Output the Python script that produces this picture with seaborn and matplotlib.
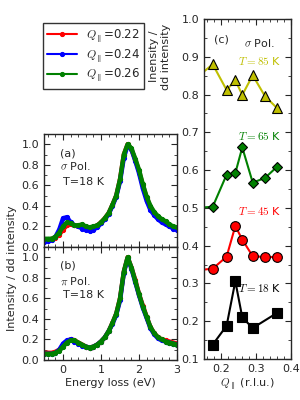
import numpy as np
import matplotlib
matplotlib.use("Agg")
import matplotlib.pyplot as plt
import matplotlib.ticker as mtick
import seaborn as sns

# ---- data ----
energy = np.round(np.arange(-0.5, 3.01, 0.1), 1)

# panel (a), sigma polarisation
sig_022 = [.07, .07, .08, .09, .12, .17, .21, .22, .21, .20, .20, .19, .18, .19, .21, .24, .28, .33,
           .41, .50, .66, .90, 1.0, .95, .85, .74, .60, .48, .39, .33, .29, .26, .24, .21, .19, .18]
sig_024 = [.05, .06, .07, .10, .17, .28, .29, .24, .21, .20, .18, .17, .16, .17, .19, .23, .27, .32,
           .40, .49, .64, .87, .99, .95, .84, .72, .57, .45, .36, .31, .27, .24, .22, .20, .18, .17]
sig_026 = [.08, .08, .08, .10, .14, .20, .24, .23, .21, .21, .22, .20, .19, .20, .21, .24, .28, .33,
           .41, .50, .66, .90, 1.0, .96, .86, .75, .61, .49, .40, .34, .30, .27, .25, .22, .20, .19]

# panel (b), pi polarisation
pi_022 = [.07, .07, .07, .08, .10, .14, .18, .20, .19, .17, .15, .13, .12, .13, .15, .18, .22, .28,
          .36, .45, .60, .86, 1.0, .90, .78, .64, .53, .42, .32, .26, .22, .20, .19, .18, .17, .16]
pi_024 = [.06, .06, .06, .07, .10, .16, .19, .20, .18, .16, .14, .13, .12, .13, .15, .18, .22, .28,
          .35, .44, .58, .85, .99, .89, .76, .63, .51, .41, .31, .25, .21, .19, .18, .17, .16, .15]
pi_026 = [.06, .06, .06, .07, .09, .13, .17, .19, .19, .17, .15, .13, .12, .13, .15, .18, .22, .28,
          .36, .45, .60, .86, 1.0, .90, .77, .64, .52, .42, .32, .26, .22, .20, .18, .17, .16, .15]

# panel (c): ratio vs Q
q_vals = [0.13, 0.175, 0.215, 0.24, 0.26, 0.29, 0.325, 0.36]
t85 = [0.846, 0.88, 0.812, 0.838, 0.799, 0.851, 0.796, 0.764]
t65 = [0.50, 0.503, 0.588, 0.592, 0.66, 0.567, 0.579, 0.609]
t45 = [0.335, 0.339, 0.371, 0.452, 0.416, 0.372, 0.370, 0.370]
q18 = [0.175, 0.215, 0.24, 0.26, 0.29, 0.36]
t18 = [0.138, 0.188, 0.306, 0.21, 0.182, 0.222]

q_labels = [r"$Q_{\parallel}$=0.22", r"$Q_{\parallel}$=0.24", r"$Q_{\parallel}$=0.26"]

sns.set_style("ticks")
plt.rcParams.update({
    "font.family": ["DejaVu Sans"],
    "font.size": 8,
    "mathtext.fontset": "cm",
    "xtick.direction": "in", "ytick.direction": "in",
    "xtick.top": True, "ytick.right": True,
    "xtick.minor.visible": True, "ytick.minor.visible": True,
    "xtick.major.size": 4, "ytick.major.size": 4,
    "xtick.minor.size": 2, "ytick.minor.size": 2,
    "axes.linewidth": 1.0,
})

fig = plt.figure(figsize=(3, 4), dpi=100)
ax_a = fig.add_axes([0.147, 0.3825, 0.443, 0.2825])
ax_b = fig.add_axes([0.147, 0.10, 0.443, 0.2825])
ax_c = fig.add_axes([0.68, 0.1025, 0.29, 0.85])

cols = ["r", "b", "g"]
for ax, series in [(ax_a, [sig_022, sig_024, sig_026]), (ax_b, [pi_022, pi_024, pi_026])]:
    for s, c, lab in zip(series, cols, q_labels):
        sns.lineplot(x=energy, y=s, color=c, marker="o", markersize=3, mec=c,
                     linewidth=3.2, label=lab, legend=False, ax=ax)
    ax.set_xlim(-0.5, 3)
    ax.set_ylim(0, 1.1)
    ax.yaxis.set_major_locator(mtick.MultipleLocator(0.2))
    ax.yaxis.set_minor_locator(mtick.MultipleLocator(0.1))
    ax.xaxis.set_major_locator(mtick.MultipleLocator(1))
    ax.xaxis.set_minor_locator(mtick.MultipleLocator(0.2))
    ax.yaxis.set_major_formatter(mtick.FormatStrFormatter("%.1f"))

ax_a.set_xticklabels([])
ax_b.set_xlabel("Energy loss (eV)", fontsize=8, labelpad=2)

ax_a.text(0.12, 0.83, "(a)", transform=ax_a.transAxes, va="center")
ax_a.text(0.12, 0.715, r"$\sigma$ Pol.", transform=ax_a.transAxes, va="center")
ax_a.text(0.143, 0.575, "T=18 K", transform=ax_a.transAxes, va="center")
ax_b.text(0.12, 0.84, "(b)", transform=ax_b.transAxes, va="center")
ax_b.text(0.12, 0.695, r"$\pi$ Pol.", transform=ax_b.transAxes, va="center")
ax_b.text(0.143, 0.575, "T=18 K", transform=ax_b.transAxes, va="center")

fig.text(0.04, 0.33, "Intensity / dd intensity", rotation=90, ha="center", va="center", fontsize=8)

# panel (c)
sns.lineplot(x=q_vals, y=t85, color="y", marker="^", markersize=7, mec="k", mfc="y", mew=0.8, ax=ax_c)
sns.lineplot(x=q_vals, y=t65, color="g", marker="D", markersize=5.5, mec="k", mfc="g", mew=0.8, ax=ax_c)
sns.lineplot(x=q_vals, y=t45, color="r", marker="o", markersize=7, mec="k", mfc="r", mew=0.8, ax=ax_c)
sns.lineplot(x=q18, y=t18, color="k", marker="s", markersize=7, mec="k", mfc="k", mew=0.8, ax=ax_c)
ax_c.set_xlim(0.15, 0.4)
ax_c.set_ylim(0.1, 1.0)
ax_c.xaxis.set_major_locator(mtick.MultipleLocator(0.1))
ax_c.xaxis.set_minor_locator(mtick.MultipleLocator(0.02))
ax_c.yaxis.set_major_locator(mtick.MultipleLocator(0.1))
ax_c.yaxis.set_minor_locator(mtick.MultipleLocator(0.05))
ax_c.xaxis.set_major_formatter(mtick.FormatStrFormatter("%.1f"))
ax_c.yaxis.set_major_formatter(mtick.FormatStrFormatter("%.1f"))
ax_c.set_xlabel(r"$Q_{\parallel}$ (r.l.u.)", fontsize=8, labelpad=2)
ax_c.set_ylabel("Inensity /\ndd intensity", fontsize=8)
ax_c.yaxis.set_label_coords(-0.38, 0.89)

ax_c.text(0.2, 0.94, "(c)", transform=ax_c.transAxes, ha="center", va="center")
ax_c.text(0.64, 0.93, r"$\sigma$ Pol.", transform=ax_c.transAxes, ha="center", va="center")
ax_c.text(0.89, 0.876, r"$T=85$ K", color="y", transform=ax_c.transAxes, ha="right", va="center")
ax_c.text(0.89, 0.656, r"$T=65$ K", color="g", transform=ax_c.transAxes, ha="right", va="center")
ax_c.text(0.89, 0.435, r"$T=45$ K", color="r", transform=ax_c.transAxes, ha="right", va="center")
ax_c.text(0.89, 0.209, r"$T=18$ K", color="k", transform=ax_c.transAxes, ha="right", va="center")

handles, labels = ax_a.get_legend_handles_labels()
leg = fig.legend(handles, labels, loc="upper left", bbox_to_anchor=(0.143, 0.943),
                 fontsize=8.5, frameon=True, fancybox=False, edgecolor="k",
                 handlelength=2.5, borderpad=0.35, labelspacing=0.2, borderaxespad=0)
leg.get_frame().set_linewidth(1.0)
for h in leg.legend_handles:
    h.set_linewidth(1.5)
    h.set_markersize(3)

fig.savefig("out.png", dpi=100)
